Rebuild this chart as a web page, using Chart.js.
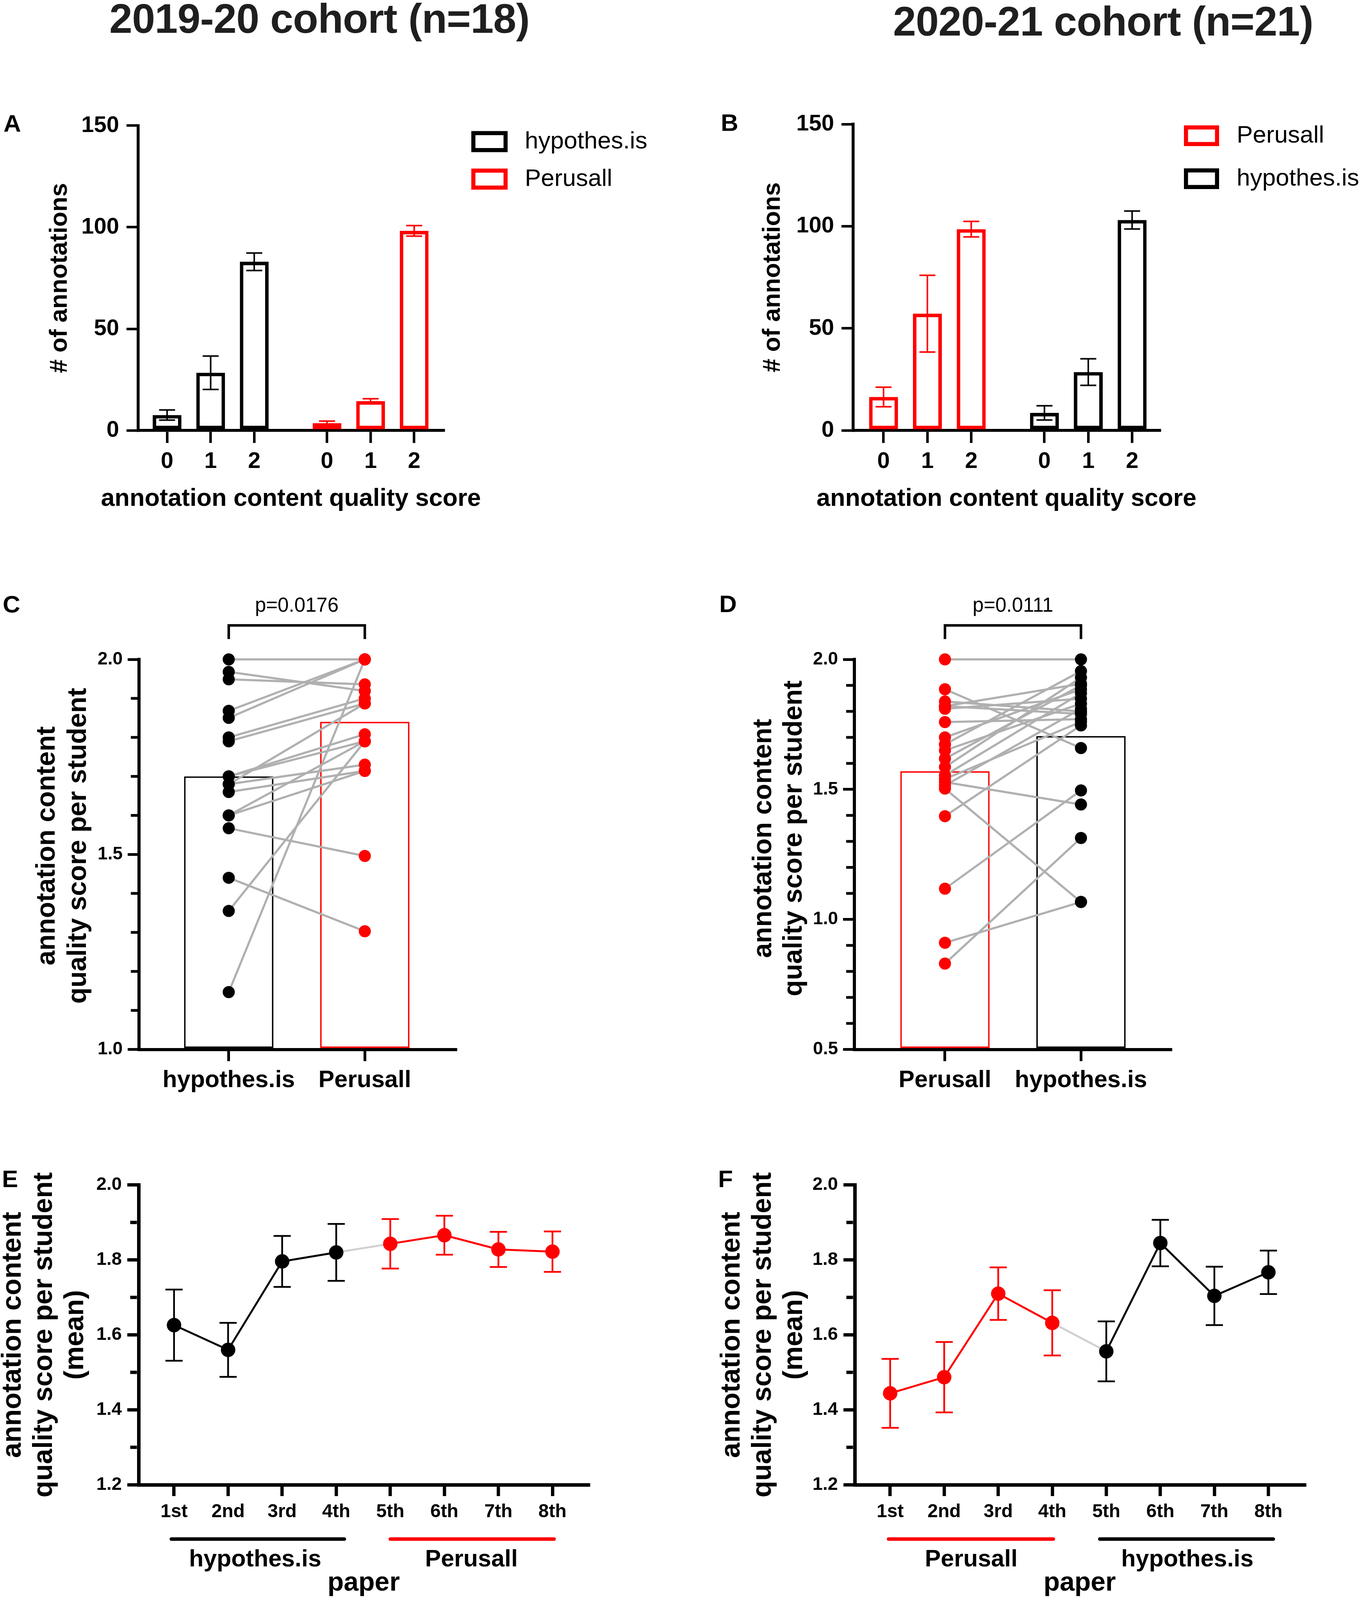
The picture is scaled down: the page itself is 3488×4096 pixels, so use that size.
<!DOCTYPE html>
<html>
<head>
<meta charset="utf-8">
<title>Annotation content quality</title>
<script src="https://cdn.jsdelivr.net/npm/chart.js@4.4.0/dist/chart.umd.min.js"></script>
<style>
  html, body { margin: 0; padding: 0; background: #fff; }
  body { position: relative; width: 3488px; height: 4096px; overflow: hidden; font-family: "Liberation Sans", Arial, sans-serif; }
  canvas { position: absolute; }
  .lbl { position: absolute; font-weight: bold; line-height: 1; white-space: nowrap; color: #000; }
  .head { font-size: 106px; letter-spacing: -0.8px; color: #1f1f1f; transform: translateX(-50%); }
  .tag { font-size: 62px; }
</style>
</head>
<body>
<div class="lbl head" style="left:818px; top:-6px">2019-20 cohort (n=18)</div>
<div class="lbl head" style="left:2825px; top:1px">2020-21 cohort (n=21)</div>
<div class="lbl tag" style="left:9px; top:285px">A</div>
<div class="lbl tag" style="left:1846px; top:283px">B</div>
<div class="lbl tag" style="left:7px; top:1516px">C</div>
<div class="lbl tag" style="left:1842px; top:1515px">D</div>
<div class="lbl tag" style="left:5px; top:2987px">E</div>
<div class="lbl tag" style="left:1839px; top:2987px">F</div>

<script>
const FONT = "'Liberation Sans', Arial, sans-serif";
const INK = "#000000";
const RED = "#ff0000";
const GRAY_PAIR = "#b0b0b0";
const GRAY_JOIN = "#d0d0d0";

// ---- A / B : number of annotations per quality score (mean, error) ----
const scoreLabels = ["0", "1", "2"];
const scorePosFirst = [0, 1, 2];
const scorePosSecond = [3.67, 4.67, 5.67];
const countTicks = [0, 50, 100, 150];

const hypCountsA = [7.6, 28.4, 83.0];
const hypErrA = [2.5, 8.2, 4.3];
const perCountsA = [3.6, 14.4, 98.2];
const perErrA = [1.0, 1.2, 2.6];

const perCountsB = [16.4, 57.2, 98.6];
const perErrB = [4.8, 18.8, 3.8];
const hypCountsB = [8.6, 28.6, 103.1];
const hypErrB = [3.5, 6.5, 4.4];

// ---- C / D : score per student, paired ----
const toolOrderC = ["hypothes.is", "Perusall"];
const barMeansC = [1.70, 1.84];
const hypStudentC = [2.000, 1.968, 1.949, 1.868, 1.850, 1.800, 1.790, 1.700, 1.700, 1.680, 1.680, 1.660, 1.600, 1.600, 1.567, 1.440, 1.355, 1.147];
const perStudentC = [2.000, 1.919, 1.936, 2.000, 2.000, 1.900, 1.887, 1.808, 1.790, 1.887, 1.730, 1.714, 1.790, 1.714, 1.496, 1.303, 1.790, 2.000];
const pValueC = "p=0.0176";
const studentTicksC = [1.0, 1.5, 2.0];
const studentMinorC = [1.1, 1.2, 1.3, 1.4, 1.6, 1.7, 1.8, 1.9];

const toolOrderD = ["Perusall", "hypothes.is"];
const barMeansD = [1.57, 1.705];
const perStudentD = [2.000, 1.885, 1.838, 1.820, 1.820, 1.810, 1.759, 1.700, 1.673, 1.650, 1.618, 1.586, 1.554, 1.540, 1.528, 1.515, 1.503, 1.397, 1.118, 0.910, 0.830];
const hypStudentD = [2.000, 1.659, 1.800, 1.790, 1.906, 1.849, 1.770, 1.885, 1.955, 1.830, 1.900, 1.930, 1.870, 1.760, 1.442, 1.810, 1.067, 1.746, 1.496, 1.067, 1.313];
const pValueD = "p=0.0111";
const studentTicksD = [0.5, 1.0, 1.5, 2.0];
const studentMinorD = [0.6, 0.7, 0.8, 0.9, 1.1, 1.2, 1.3, 1.4, 1.6, 1.7, 1.8, 1.9];

// ---- E / F : mean score per paper ----
const paperLabels = ["1st", "2nd", "3rd", "4th", "5th", "6th", "7th", "8th"];
const paperPos = [1, 2, 3, 4, 5, 6, 7, 8];
const paperTicks = [1.2, 1.4, 1.6, 1.8, 2.0];
const paperMinor = [1.3, 1.5, 1.7, 1.9];
const meanE = [1.626, 1.560, 1.796, 1.820, 1.843, 1.866, 1.828, 1.822];
const semE = [0.095, 0.072, 0.068, 0.076, 0.066, 0.052, 0.047, 0.054];
const groupsE = ["hypothes.is", "Perusall"];
const meanF = [1.444, 1.487, 1.710, 1.632, 1.556, 1.845, 1.704, 1.767];
const semF = [0.092, 0.094, 0.070, 0.087, 0.080, 0.062, 0.078, 0.058];
const groupsF = ["Perusall", "hypothes.is"];

// page boxes of each panel and of its plot area
const GEOM = {
    A: { x: 0, y: 230, w: 1744, h: 1086, left: 354, right: 1136, top: 321.5, bottom: 1102, range: [-0.662, 6.345] },
    B: { x: 1744, y: 230, w: 1744, h: 1086, left: 2185, right: 2970, top: 318, bottom: 1102, range: [-0.6925, 6.30] },
    C: { x: 0, y: 1480, w: 1744, h: 1350, left: 356, right: 1167.6, top: 1688, bottom: 2686.5, range: [-0.6595, 1.6697] },
    D: { x: 1744, y: 1480, w: 1744, h: 1350, left: 2188, right: 2998.7, top: 1688, bottom: 2686.5, range: [-0.666, 1.6615] },
    E: { x: 0, y: 2900, w: 1744, h: 1194, left: 355, right: 1507.6, top: 3033.5, bottom: 3801, range: [0.345, 8.67] },
    F: { x: 1744, y: 2900, w: 1744, h: 1194, left: 2189, right: 3341, top: 3033.5, bottom: 3801, range: [0.345, 8.67] }
};

const STYLE = {
    count: { axisW: 7.5, tickW: 6.5, yTick: 30, yPad: 19, yFont: 58, xTick: 32, xPad: 13, xFont: 58 },
    student: { axisW: 8, tickW: 7, yTick: 29, yPad: 13, yFont: 46, xTick: 30, xPad: 13, xFont: 61 },
    paper: { axisW: 9, tickW: 8.5, yTick: 29, yPad: 14, yFont: 47, xTick: 29, xPad: 12, xFont: 48 }
};

// ---------- plugins ----------
const errorBars = {
    id: "errorBars",
    afterDatasetsDraw(chart, args, o) {
        if (!o.cap) return;
        const ctx = chart.ctx, y = chart.scales.y;
        chart.data.datasets.forEach((ds, i) => {
            if (!ds.errors) return;
            const meta = chart.getDatasetMeta(i);
            ctx.save();
            ctx.strokeStyle = ds.borderColor;
            ctx.lineWidth = o.width;
            meta.data.forEach((el, j) => {
                const v = ds.data[j].y, e = ds.errors[j];
                const hi = y.getPixelForValue(v + e), lo = y.getPixelForValue(v - e);
                ctx.beginPath();
                ctx.moveTo(el.x, hi); ctx.lineTo(el.x, lo);
                ctx.moveTo(el.x - o.cap / 2, hi); ctx.lineTo(el.x + o.cap / 2, hi);
                ctx.moveTo(el.x - o.cap / 2, lo); ctx.lineTo(el.x + o.cap / 2, lo);
                ctx.stroke();
            });
            ctx.restore();
        });
    }
};

const minorTicks = {
    id: "minorTicks",
    afterDraw(chart, args, o) {
        if (!o.values) return;
        const ctx = chart.ctx, y = chart.scales.y;
        const x0 = chart.chartArea.left - o.axisW / 2;
        ctx.save();
        ctx.strokeStyle = INK;
        ctx.lineWidth = o.width;
        o.values.forEach(v => {
            const py = y.getPixelForValue(v);
            ctx.beginPath(); ctx.moveTo(x0, py); ctx.lineTo(x0 - o.length, py); ctx.stroke();
        });
        ctx.restore();
    }
};

// axis titles: drawn here so that a long title may run past the plot width
const axisTitles = {
    id: "axisTitles",
    afterDraw(chart, args, o) {
        const ctx = chart.ctx, a = chart.chartArea;
        ctx.save();
        ctx.fillStyle = INK;
        ctx.textAlign = "center";
        ctx.textBaseline = "middle";
        if (o.yLines) {
            ctx.save();
            ctx.translate(a.left + o.yDx, (a.top + a.bottom) / 2 + o.yDy);
            ctx.rotate(-Math.PI / 2);
            ctx.font = "bold " + o.ySize + "px " + FONT;
            o.yLines.forEach((t, i) => ctx.fillText(t, 0, i * o.yGap));
            ctx.restore();
        }
        if (o.xText) {
            ctx.font = "bold " + o.xSize + "px " + FONT;
            ctx.fillText(o.xText, (a.left + a.right) / 2, a.bottom + o.xDy);
        }
        ctx.restore();
    }
};

const boxLegend = {
    id: "boxLegend",
    afterDraw(chart, args, o) {
        if (!o.boxW) return;
        const ctx = chart.ctx, a = chart.chartArea;
        ctx.save();
        ctx.font = o.size + "px " + FONT;
        ctx.textBaseline = "middle";
        chart.data.datasets.forEach((ds, i) => {
            const left = a.right + o.dx, top = a.top + o.dy + i * o.step;
            ctx.strokeStyle = ds.borderColor;
            ctx.lineWidth = o.line;
            ctx.strokeRect(left + o.line / 2, top + o.line / 2, o.boxW - o.line, o.boxH - o.line);
            ctx.fillStyle = INK;
            ctx.fillText(ds.label, left + o.textDx, top + o.boxH / 2);
        });
        ctx.restore();
    }
};

const bracket = {
    id: "bracket",
    afterDraw(chart, args, o) {
        if (!o.text) return;
        const ctx = chart.ctx, a = chart.chartArea, x = chart.scales.x;
        const x1 = x.getPixelForValue(o.from), x2 = x.getPixelForValue(o.to);
        const yb = a.top + o.barDy, yl = a.top + o.legDy;
        ctx.save();
        ctx.strokeStyle = INK;
        ctx.lineWidth = o.line;
        ctx.beginPath();
        ctx.moveTo(x1, yl); ctx.lineTo(x1, yb); ctx.lineTo(x2, yb); ctx.lineTo(x2, yl);
        ctx.stroke();
        ctx.font = o.size + "px " + FONT;
        ctx.fillStyle = INK;
        ctx.textAlign = "center";
        ctx.textBaseline = "middle";
        ctx.fillText(o.text, (x1 + x2) / 2, a.top + o.textDy);
        ctx.restore();
    }
};

const groupBars = {
    id: "groupBars",
    afterDraw(chart, args, o) {
        if (!o.items) return;
        const ctx = chart.ctx, a = chart.chartArea, x = chart.scales.x;
        ctx.save();
        ctx.lineWidth = o.line;
        ctx.lineCap = "round";
        ctx.font = "bold " + o.size + "px " + FONT;
        ctx.textAlign = "center";
        ctx.textBaseline = "middle";
        o.items.forEach(g => {
            ctx.strokeStyle = g.color;
            ctx.beginPath();
            ctx.moveTo(x.getPixelForValue(g.from), a.bottom + o.lineDy);
            ctx.lineTo(x.getPixelForValue(g.to), a.bottom + o.lineDy);
            ctx.stroke();
            ctx.fillStyle = INK;
            ctx.fillText(g.label, x.getPixelForValue(g.mid), a.bottom + o.textDy);
        });
        ctx.restore();
    }
};

Chart.defaults.font.family = FONT;
Chart.defaults.color = INK;
Chart.register(errorBars, minorTicks, axisTitles, boxLegend, bracket, groupBars);

// ---------- helpers ----------
function mountCanvas(g) {
    const c = document.createElement("canvas");
    c.width = g.w; c.height = g.h;
    c.style.left = g.x + "px"; c.style.top = g.y + "px";
    c.style.width = g.w + "px"; c.style.height = g.h + "px";
    document.body.appendChild(c);
    return c;
}

function baseOptions(g) {
    return {
        responsive: false, animation: false, events: [], devicePixelRatio: 1,
        layout: { padding: { left: 0, top: g.top - g.y, right: g.x + g.w - g.right, bottom: 0 } },
        plugins: { legend: { display: false }, tooltip: { enabled: false } }
    };
}

function yScale(g, st, ticks, fmt) {
    return {
        type: "linear", position: "left", beginAtZero: false,
        min: ticks[0], max: ticks[ticks.length - 1],
        afterFit: s => { s.width = g.left - g.x; },
        afterBuildTicks: s => { s.ticks = ticks.map(v => ({ value: v })); },
        border: { display: true, color: INK, width: st.axisW },
        grid: { drawOnChartArea: false, tickLength: st.yTick, tickWidth: st.tickW, tickColor: INK, color: INK, lineWidth: st.tickW },
        ticks: { autoSkip: false, color: INK, padding: st.yPad, font: { size: st.yFont, weight: "bold" }, callback: fmt }
    };
}

function xScale(g, st, pos, labels) {
    return {
        type: "linear", position: "bottom", offset: false,
        min: g.range[0], max: g.range[1],
        afterFit: s => { s.height = g.y + g.h - g.bottom; },
        afterBuildTicks: s => { s.ticks = pos.map(v => ({ value: v })); },
        border: { display: true, color: INK, width: st.axisW },
        grid: { offset: false, drawOnChartArea: false, tickLength: st.xTick, tickWidth: st.tickW, tickColor: INK, color: INK, lineWidth: st.tickW },
        ticks: { autoSkip: false, maxRotation: 0, minRotation: 0, color: INK, padding: st.xPad,
                 font: { size: st.xFont, weight: "bold" }, callback: (v, i) => labels[i] }
    };
}

// ---------- A / B ----------
function countSet(label, color, pos, values, err) {
    return {
        type: "bar", label: label,
        data: pos.map((x, i) => ({ x: x, y: values[i] })),
        errors: err,
        borderColor: color, backgroundColor: "#ffffff", borderWidth: 9, borderSkipped: false,
        grouped: false, barPercentage: 0.66, categoryPercentage: 1
    };
}

function countPanel(g, sets, legend, titleDx) {
    const st = STYLE.count;
    const opts = baseOptions(g);
    opts.scales = {
        x: xScale(g, st, scorePosFirst.concat(scorePosSecond), scoreLabels.concat(scoreLabels)),
        y: yScale(g, st, countTicks, v => String(v))
    };
    Object.assign(opts.plugins, {
        errorBars: { width: 4, cap: 41 },
        boxLegend: legend,
        axisTitles: { yLines: ["# of annotations"], yDx: titleDx, yDy: 0, ySize: 63, yGap: 0,
                      xText: "annotation content quality score", xSize: 63, xDy: 176 }
    });
    new Chart(mountCanvas(g), { type: "bar", data: { datasets: sets }, options: opts });
}

countPanel(GEOM.A, [
    countSet("hypothes.is", INK, scorePosFirst, hypCountsA, hypErrA),
    countSet("Perusall", RED, scorePosSecond, perCountsA, perErrA)
], { dx: 71, dy: 14, step: 96, boxW: 93, boxH: 54, line: 10.5, textDx: 137, size: 62 }, -200);

countPanel(GEOM.B, [
    countSet("Perusall", RED, scorePosFirst, perCountsB, perErrB),
    countSet("hypothes.is", INK, scorePosSecond, hypCountsB, hypErrB)
], { dx: 62, dy: 3, step: 110, boxW: 90, boxH: 53, line: 10.5, textDx: 135, size: 62 }, -205);

// ---------- C / D ----------
function studentPanel(g, tools, colors, means, leftVals, rightVals, ticks, minor, pText, titleDx, titleDy, titleGap) {
    const st = STYLE.student;
    const pos = [0, 1];
    const datasets = [{
        type: "bar", data: pos.map((x, i) => ({ x: x, y: means[i] })),
        borderColor: colors, backgroundColor: "#ffffff", borderWidth: 4, borderSkipped: false,
        base: ticks[0], grouped: false, barPercentage: 0.657, categoryPercentage: 1, order: 3
    }];
    leftVals.forEach((v, i) => datasets.push({
        type: "line", data: [{ x: pos[0], y: v }, { x: pos[1], y: rightVals[i] }],
        borderColor: GRAY_PAIR, borderWidth: 5.5, pointRadius: 0, clip: false, order: 2
    }));
    [leftVals, rightVals].forEach((vals, k) => datasets.push({
        type: "line", showLine: false, data: vals.map(v => ({ x: pos[k], y: v })),
        pointRadius: 15.5, pointBorderWidth: 0, pointBackgroundColor: colors[k], borderColor: colors[k],
        clip: false, order: 1
    }));
    const opts = baseOptions(g);
    opts.scales = {
        x: xScale(g, st, pos, tools),
        y: yScale(g, st, ticks, v => Number(v).toFixed(1))
    };
    Object.assign(opts.plugins, {
        minorTicks: { values: minor, length: 17, width: st.tickW, axisW: st.axisW },
        bracket: { text: pText, from: pos[0], to: pos[1], barDy: -87, legDy: -52, textDy: -136, line: 6.5, size: 51 },
        axisTitles: { yLines: ["annotation content", "quality score per student"], yDx: titleDx, yDy: titleDy, ySize: 68, yGap: titleGap }
    });
    new Chart(mountCanvas(g), { type: "bar", data: { datasets: datasets }, options: opts });
}

studentPanel(GEOM.C, toolOrderC, [INK, RED], barMeansC, hypStudentC, perStudentC, studentTicksC, studentMinorC, pValueC, -235, -22, 80);
studentPanel(GEOM.D, toolOrderD, [RED, INK], barMeansD, perStudentD, hypStudentD, studentTicksD, studentMinorD, pValueD, -232, -41, 78);

// ---------- E / F ----------
function paperPanel(g, means, sems, groups, colors, spans, titleDx) {
    const st = STYLE.paper;
    const pts = paperPos.map((x, i) => ({ x: x, y: means[i] }));
    const part = (a, b, color) => ({
        type: "line", data: pts.slice(a, b), errors: sems.slice(a, b),
        borderColor: color, backgroundColor: color, pointBackgroundColor: color, pointBorderWidth: 0,
        pointRadius: 18.5, borderWidth: 5, clip: false, order: 1
    });
    const datasets = [
        part(0, 4, colors[0]),
        part(4, 8, colors[1]),
        { type: "line", data: pts.slice(3, 5), borderColor: GRAY_JOIN, borderWidth: 5, pointRadius: 0, clip: false, order: 2 }
    ];
    const opts = baseOptions(g);
    opts.scales = {
        x: xScale(g, st, paperPos, paperLabels),
        y: yScale(g, st, paperTicks, v => Number(v).toFixed(1))
    };
    Object.assign(opts.plugins, {
        errorBars: { width: 4.5, cap: 44 },
        minorTicks: { values: paperMinor, length: 17, width: st.tickW, axisW: st.axisW },
        groupBars: {
            lineDy: 139, textDy: 192, line: 9, size: 61,
            items: groups.map((label, k) => ({
                label: label, color: colors[k], from: spans[k][0], to: spans[k][1],
                mid: (paperPos[k * 4] + paperPos[k * 4 + 3]) / 2
            }))
        },
        axisTitles: { yLines: ["annotation content", "quality score per student", "(mean)"], yDx: titleDx, yDy: 0, ySize: 70, yGap: 80,
                      xText: "paper", xSize: 68, xDy: 252 }
    });
    new Chart(mountCanvas(g), { type: "line", data: { datasets: datasets }, options: opts });
}

paperPanel(GEOM.E, meanE, semE, groupsE, [INK, RED], [[0.95, 4.15], [5.0, 8.03]], -321);
paperPanel(GEOM.F, meanF, semF, groupsF, [RED, INK], [[0.97, 4.02], [4.88, 8.09]], -314);
</script>
</body>
</html>
